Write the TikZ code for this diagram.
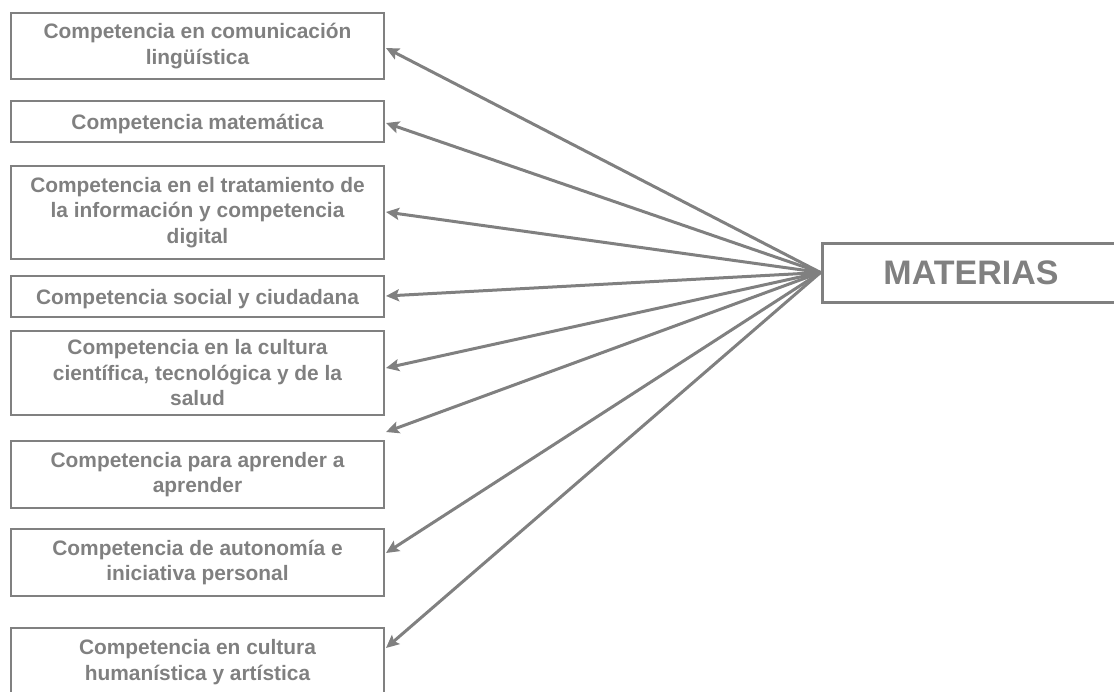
\documentclass[tikz,border=0pt]{standalone}
\usepackage{fontspec}
\setmainfont{Liberation Sans}
\usetikzlibrary{arrows.meta}
\definecolor{gr}{HTML}{808080}
\begin{document}
\begin{tikzpicture}[x=1pt,y=-1pt,
  comp/.style={draw=gr, line width=2pt, text=gr, inner sep=0pt, minimum width=373pt,
    align=center, font=\fontsize{20.9pt}{25.5pt}\selectfont\bfseries,
    execute at begin node={\rule{0pt}{21pt}}},
  mat/.style={draw=gr, line width=3pt, text=gr, inner sep=0pt, minimum width=298pt, minimum height=59pt,
    font=\fontsize{34pt}{40pt}\selectfont\bfseries},
  conn/.style={draw=gr, line width=3pt, -{Stealth[length=13pt,width=12pt,inset=2.5pt]}}]
\useasboundingbox (0,0) rectangle (1114,691);
\node[comp, minimum height=66pt] (b1) at (197.5,46) {Competencia en comunicación\\lingüística};
\node[comp, minimum height=41pt] (b2) at (197.5,121.5) {Competencia matemática};
\node[comp, minimum height=93pt] (b3) at (197.5,212.5) {Competencia en el tratamiento de\\la información y competencia\\digital};
\node[comp, minimum height=41pt] (b4) at (197.5,296.5) {Competencia social y ciudadana};
\node[comp, minimum height=84pt] (b5) at (197.5,373) {Competencia en la cultura\\científica, tecnológica y de la\\salud};
\node[comp, minimum height=67pt] (b6) at (197.5,474.5) {Competencia para aprender a\\aprender};
\node[comp, minimum height=67pt] (b7) at (197.5,562.5) {Competencia de autonomía e\\iniciativa personal};
\node[comp, minimum height=68pt] (b8) at (197.5,662) {Competencia en cultura\\humanística y artística};
\node[mat] (m) at (971,272.5) {MATERIAS};
\coordinate (t1) at (386,48);
\coordinate (t2) at (386,123);
\coordinate (t3) at (386,212);
\coordinate (t4) at (386,296);
\coordinate (t5) at (386,368);
\coordinate (t6) at (386,432);
\coordinate (t7) at (386,553);
\coordinate (t8) at (386,648);
\foreach \i in {1,...,8}{\draw[conn] (m.west) -- (t\i);}
\end{tikzpicture}
\end{document}
